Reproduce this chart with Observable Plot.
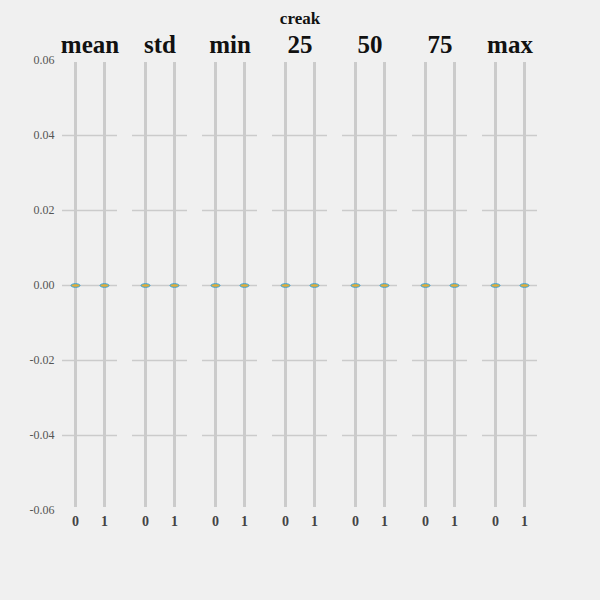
<!DOCTYPE html>
<html>
<head>
<meta charset="utf-8">
<script src="https://cdn.jsdelivr.net/npm/d3@7"></script>
<script src="https://cdn.jsdelivr.net/npm/@observablehq/plot@0.6"></script>
<style>
  html, body { margin: 0; padding: 0; background: #f0f0f0; }
  #chart { position: relative; width: 600px; height: 600px; background: #f0f0f0; }
  #title { position: absolute; left: 0; width: 600px; top: 9px; text-align: center;
           font-family: 'Liberation Serif', 'DejaVu Serif', serif; font-weight: bold; font-size: 17px; color: #111; }
</style>
</head>
<body>
<div id="chart"><div id="title"></div></div>
<script>
const stats = ["mean", "std", "min", "25", "50", "75", "max"];
const groups = ["0", "1"];
// value per stat for group 0 and group 1 (all ~0)
const valuesGroup0 = [0, 0, 0, 0, 0, 0, 0];
const valuesGroup1 = [0, 0, 0, 0, 0, 0, 0];
const yTicks = [-0.06, -0.04, -0.02, 0.0, 0.02, 0.04, 0.06];
const yGridTicks = [-0.04, -0.02, 0.0, 0.02, 0.04];
const title = "creak";

document.getElementById("title").textContent = title;

const data = [];
stats.forEach((s, i) => {
  data.push({stat: s, group: groups[0], value: valuesGroup0[i]});
  data.push({stat: s, group: groups[1], value: valuesGroup1[i]});
});

const ellipse = {
  draw(ctx, size) {
    const rx = 4.5, ry = 1.8, k = 0.5523;
    ctx.moveTo(-rx, 0);
    ctx.bezierCurveTo(-rx, -ry * k, -rx * k, -ry, 0, -ry);
    ctx.bezierCurveTo(rx * k, -ry, rx, -ry * k, rx, 0);
    ctx.bezierCurveTo(rx, ry * k, rx * k, ry, 0, ry);
    ctx.bezierCurveTo(-rx * k, ry, -rx, ry * k, -rx, 0);
    ctx.closePath();
  }
};

const serif = "'Liberation Serif', 'DejaVu Serif', serif";

const chart = Plot.plot({
  width: 600,
  height: 560,
  marginTop: 60,
  marginBottom: 50,
  marginLeft: 61,
  marginRight: 63,
  style: {background: "#f0f0f0", fontFamily: serif},
  fx: {domain: stats, paddingInner: 0.217, paddingOuter: 0},
  x: {domain: groups, type: "point", padding: 0.42},
  y: {domain: [-0.06, 0.06]},
  marks: [
    Plot.gridY(yGridTicks, {stroke: "#cbcbcb", strokeOpacity: 1, strokeWidth: 1.5}),
    Plot.gridX(groups, {stroke: "#cbcbcb", strokeOpacity: 1, strokeWidth: 3, insetTop: 2, insetBottom: 3}),
    Plot.axisY(yTicks, {
      tickSize: 0, tickPadding: 8, fontSize: 12, fill: "#555",
      tickFormat: d => d.toFixed(2), label: null
    }),
    Plot.axisX(groups, {
      tickSize: 0, tickPadding: 6, fontSize: 14, fontWeight: "bold", fill: "#444", label: null
    }),
    Plot.axisFx({
      anchor: "top", tickSize: 0, tickPadding: 8, fontSize: 25, fontWeight: "bold", fill: "#111",
      label: null
    }),
    Plot.dot(data, {
      fx: "stat", x: "group", y: "value",
      symbol: ellipse, r: 4.5, fill: "#e5ae38", stroke: "#30a2da", strokeWidth: 1
    })
  ]
});
document.getElementById("chart").appendChild(chart);
</script>
</body>
</html>
